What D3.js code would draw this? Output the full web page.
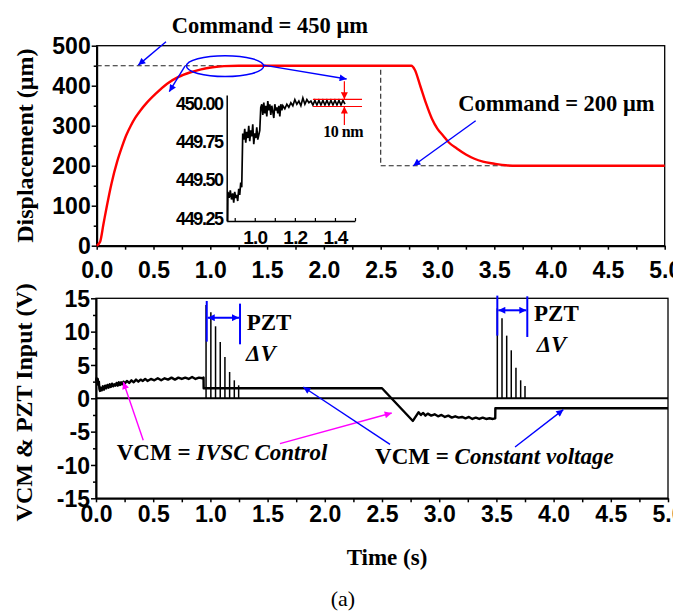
<!DOCTYPE html>
<html><head><meta charset="utf-8">
<script src="https://cdn.jsdelivr.net/npm/d3@7"></script>
<style>body{margin:0;background:#fff}svg{display:block}</style>
</head><body>
<svg id="c" width="673" height="612"></svg>
<script>
// ---------- DATA ----------
// Top panel: displacement response (μm) vs time (s)
const dispTime = [0,0.03,0.06,0.09,0.13,0.18,0.22,0.26,0.3,0.34,0.39,0.44,0.52,0.62,0.72,0.82,0.92,1.02,1.12,1.25,1.5,2.0,2.5,2.77,2.8,2.85,2.9,2.95,3.0,3.05,3.1,3.17,3.25,3.32,3.4,3.5,3.6,3.7,4.0,4.5,5.0];
const dispVal  = [0,10,55,100,155,210,245,276,300,320,340,357,380,405,422,433,441,446,449,450,450,450,450,450,440,398,355,318,292,275,258,243,228,218,210,205,201,200,200,200,200];
// Command (dashed)
const cmdTime = [0,2.5,2.5,5.0];
const cmdVal  = [450,450,200,200];
// Inset: zoomed displacement (μm)
const inTime = [0.865,0.866,0.872,0.878,0.884,0.89,0.895,0.9,0.905,0.91,0.915,0.92,0.925,0.93,0.935,0.94,0.945,0.95,0.955,0.96,0.965,0.97,0.975,0.98,0.985,0.99,0.995,1.0,1.005,1.01,1.015,1.02,1.025,1.03,1.035,1.04,1.045,1.05,1.055,1.06,1.065,1.07,1.075,1.08,1.085,1.09,1.095,1.1,1.105,1.11,1.115,1.12,1.125,1.13,1.135,1.14,1.15,1.16,1.17,1.18,1.19,1.2,1.21,1.22,1.23,1.24,1.25,1.26,1.27,1.28,1.29,1.3,1.31,1.32,1.33,1.34,1.35,1.36,1.37,1.38,1.39,1.4,1.41,1.42,1.43,1.44,1.45];
const inVal  = [449.23,449.42,449.38,449.43,449.37,449.41,449.35,449.42,449.38,449.40,449.36,449.44,449.40,449.48,449.45,449.80,449.76,449.83,449.74,449.81,449.77,449.85,449.75,449.82,449.78,449.86,449.73,449.80,449.77,449.84,449.76,449.79,449.82,449.97,449.99,449.92,450.00,449.93,449.98,449.91,450.01,449.95,449.99,449.92,449.98,449.94,449.90,449.99,449.95,449.97,449.93,449.98,449.91,449.99,449.95,449.98,449.96,449.99,449.97,450.00,449.98,450.02,449.99,450.01,449.98,450.03,449.99,450.02,450.00,450.01,449.985,450.015,449.985,450.015,449.985,450.015,449.985,450.015,449.985,450.015,449.985,450.015,449.985,450.015,449.985,450.015,449.99];
const inBand = [449.975,450.022];
// Bottom panel: VCM input (V)
const vcmTime = [0,0.005,0.01,0.015,0.02,0.025,0.03,0.035,0.04,0.05,0.06,0.07,0.08,0.09,0.10,0.11,0.12,0.13,0.14,0.15,0.16,0.17,0.18,0.19,0.20,0.21,0.22,0.23,0.24,0.25,0.27,0.29,0.31,0.33,0.35,0.37,0.39,0.41,0.43,0.45,0.48,0.51,0.54,0.57,0.60,0.63,0.66,0.69,0.72,0.75,0.78,0.81,0.84,0.87,0.90,0.93,0.94,0.941,2.5,2.77,2.80,2.82,2.84,2.86,2.88,2.90,2.93,2.96,2.99,3.02,3.05,3.08,3.11,3.14,3.17,3.20,3.23,3.26,3.29,3.32,3.35,3.38,3.41,3.44,3.47,3.49,3.491,5.0];
const vcmVal  = [2.6,3.0,2.2,2.9,2.0,2.5,1.4,1.1,1.6,1.2,1.8,1.3,1.9,1.5,2.0,1.6,2.1,1.7,2.2,1.8,2.1,1.9,2.3,1.9,2.4,2.0,2.4,2.1,2.5,2.2,2.6,2.3,2.7,2.4,2.8,2.5,2.8,2.6,2.9,2.6,2.9,2.7,3.0,2.7,3.0,2.8,3.1,2.8,3.1,2.9,3.1,2.9,3.2,2.9,3.1,3.0,3.1,1.5,1.5,-3.4,-2.6,-2.1,-2.5,-2.2,-2.6,-2.3,-2.6,-2.4,-2.7,-2.5,-2.8,-2.6,-2.9,-2.7,-2.9,-2.8,-3.0,-2.8,-3.1,-2.9,-3.1,-2.9,-3.1,-3.0,-3.1,-3.0,-1.5,-1.5];
// PZT pulses (V)
const pztTime1 = [0.962,1.004,1.045,1.086,1.127,1.168,1.209,1.247];
const pztVal1  = [14.0,12.9,10.8,8.45,6.2,3.95,2.7,1.95];
const pztTime2 = [3.508,3.549,3.59,3.63,3.671,3.712,3.75];
const pztVal2  = [13.5,12.0,9.4,7.2,4.6,2.7,1.85];
// Ticks
const xTickVals = [0,0.5,1.0,1.5,2.0,2.5,3.0,3.5,4.0,4.5,5.0];
const dispTickVals = [0,100,200,300,400,500];
const voltTickVals = [-15,-10,-5,0,5,10,15];
const inXTickVals = [1.0,1.2,1.4];
const inYTickVals = [449.25,449.50,449.75,450.00];

// ---------- DRAW ----------
const svg = d3.select("#c");
const SANS = "'Liberation Sans', Arial, sans-serif";
const SERIF = "'Liberation Serif', 'Times New Roman', serif";
const TICKFS = 23;

const xTop = d3.scaleLinear().domain([0,5]).range([96.7,664.7]);
const yTop = d3.scaleLinear().domain([0,500]).range([245.7,45.7]);
const xBot = d3.scaleLinear().domain([0,5]).range([96,668]);
const yBot = d3.scaleLinear().domain([-15,15]).range([498.3,298.3]);
const xIn  = d3.scaleLinear().domain([0.86,1.5]).range([226.7,355]);
const yIn  = d3.scaleLinear().domain([449.23,450.05]).range([221,95]);

const defs = svg.append("defs");
function marker(id, color){
  defs.append("marker").attr("id",id).attr("viewBox","0 0 10 10").attr("refX",10).attr("refY",5)
    .attr("markerWidth",9).attr("markerHeight",7).attr("markerUnits","userSpaceOnUse")
    .attr("orient","auto-start-reverse")
    .append("path").attr("d","M0,0 L10,5 L0,10 z").attr("fill",color);
}
marker("ab","#0000ff"); marker("am","#ff00ff"); marker("ar","#ff0000");

function axisStyle(g, w){
  g.select(".domain").attr("stroke","#000").attr("stroke-width",w);
  g.selectAll(".tick line").attr("stroke","#000").attr("stroke-width",1.5);
}

// ---- Top panel frame ----
svg.append("rect").attr("x",xTop(0)).attr("y",yTop(500)).attr("width",xTop(5)-xTop(0)).attr("height",yTop(0)-yTop(500))
  .attr("fill","none").attr("stroke","#000").attr("stroke-width",1.3);

const gxt = svg.append("g").attr("transform",`translate(0,${yTop(0)})`)
  .call(d3.axisBottom(xTop).tickValues(d3.range(0,5.001,0.25)).tickSize(4).tickSizeOuter(0)
    .tickFormat(d => xTickVals.some(v=>Math.abs(v-d)<1e-6) ? d.toFixed(1) : ""));
axisStyle(gxt,2);
gxt.selectAll("text").attr("y",32).attr("dy",0).attr("font-family",SANS).attr("font-weight","bold").attr("font-size",TICKFS).attr("fill","#000");

const gyt = svg.append("g").attr("transform",`translate(${xTop(0)},0)`)
  .call(d3.axisLeft(yTop).tickValues(d3.range(0,501,50)).tickSize(5).tickSizeOuter(0)
    .tickFormat(d => dispTickVals.includes(d) ? d : ""));
axisStyle(gyt,2);
gyt.selectAll(".tick").filter(d=>!dispTickVals.includes(d)).select("line").attr("x2",-3);
gyt.selectAll("text").attr("x",-6).attr("dy","0.36em").attr("font-family",SANS).attr("font-weight","bold").attr("font-size",TICKFS).attr("fill","#000");

// command dashed
svg.append("path").datum(cmdTime.map((t,i)=>[t,cmdVal[i]]))
  .attr("d",d3.line().x(d=>xTop(d[0])).y(d=>yTop(d[1])))
  .attr("fill","none").attr("stroke","#222").attr("stroke-width",1.1).attr("stroke-dasharray","5,3");
// response
svg.append("path").datum(dispTime.map((t,i)=>[t,dispVal[i]]))
  .attr("d",d3.line().curve(d3.curveMonotoneX).x(d=>xTop(d[0])).y(d=>yTop(d[1])))
  .attr("fill","none").attr("stroke","#ff0000").attr("stroke-width",2.4);

// annotations top
function arrow(x1,y1,x2,y2,color,mid,w){
  svg.append("line").attr("x1",x1).attr("y1",y1).attr("x2",x2).attr("y2",y2)
    .attr("stroke",color).attr("stroke-width",w||1.4).attr("marker-end",`url(#${mid})`);
}
svg.append("text").attr("x",xTop(0.66)).attr("y",yTop(532)).text("Command = 450 μm")
  .attr("font-family",SERIF).attr("font-weight","bold").attr("font-size",22.5);
svg.append("text").attr("x",xTop(3.183)).attr("y",yTop(336)).text("Command = 200 μm")
  .attr("font-family",SERIF).attr("font-weight","bold").attr("font-size",22.5);
arrow(xTop(0.61),yTop(510),xTop(0.366),yTop(451.5),"#0000ff","ab");
arrow(xTop(3.336),yTop(312.5),xTop(2.787),yTop(200),"#0000ff","ab");
svg.append("ellipse").attr("cx",xTop(1.13)).attr("cy",yTop(449)).attr("rx",xTop(1.13)-xTop(0.79)).attr("ry",yTop(423)-yTop(449))
  .attr("fill","none").attr("stroke","#0000ff").attr("stroke-width",1.5);
arrow(xTop(0.777),yTop(449),xTop(0.639),yTop(385),"#0000ff","ab");
arrow(xTop(1.467),yTop(451.5),xTop(2.2),yTop(416.7),"#0000ff","ab");

// ---- Inset ----
const gix = svg.append("g").attr("transform",`translate(0,${yIn(449.23)})`)
  .call(d3.axisBottom(xIn).tickValues(d3.range(0.9,1.501,0.1)).tickSize(-3).tickSizeOuter(0)
    .tickFormat(d => inXTickVals.some(v=>Math.abs(v-d)<1e-6) ? d.toFixed(1) : ""));
axisStyle(gix,1.5);
gix.selectAll(".tick line").attr("stroke-width",1.2);
gix.selectAll("text").attr("y",23).attr("dy",0).attr("font-family",SANS).attr("font-weight","bold").attr("font-size",19).attr("letter-spacing",-0.8).attr("fill","#000");
const giy = svg.append("g").attr("transform",`translate(${xIn(0.86)},0)`)
  .call(d3.axisLeft(yIn).tickValues(inYTickVals).tickSize(0).tickSizeOuter(0).tickFormat(d=>d.toFixed(2)));
axisStyle(giy,1.5);
giy.selectAll("text").attr("x",-4).attr("dy","0.36em").attr("font-family",SANS).attr("font-weight","bold").attr("font-size",18).attr("letter-spacing",-1.4).attr("fill","#000");

svg.append("path").datum(inTime.map((t,i)=>[t,inVal[i]]))
  .attr("d",d3.line().x(d=>xIn(d[0])).y(d=>yIn(d[1])))
  .attr("fill","none").attr("stroke","#000").attr("stroke-width",1.7);
inBand.forEach(v=>{
  svg.append("line").attr("x1",xIn(1.29)).attr("x2",xIn(1.535)).attr("y1",yIn(v)).attr("y2",yIn(v))
    .attr("stroke","#ff0000").attr("stroke-width",1.2);
});
arrow(xIn(1.447),yIn(450.14),xIn(1.447),yIn(inBand[1]),"#ff0000","ar",1.2);
arrow(xIn(1.447),yIn(449.855),xIn(1.447),yIn(inBand[0]),"#ff0000","ar",1.2);
svg.append("text").attr("x",xIn(1.342)).attr("y",yIn(449.779)).text("10 nm")
  .attr("font-family",SERIF).attr("font-weight","bold").attr("font-size",16).attr("letter-spacing",-0.5);

// ---- Bottom panel ----
svg.append("rect").attr("x",xBot(0)).attr("y",yBot(15)).attr("width",xBot(5)-xBot(0)).attr("height",yBot(-15)-yBot(15))
  .attr("fill","none").attr("stroke","#000").attr("stroke-width",1.3);
const gxb = svg.append("g").attr("transform",`translate(0,${yBot(-15)})`)
  .call(d3.axisBottom(xBot).tickValues(d3.range(0,5.001,0.25)).tickSize(4).tickSizeOuter(0)
    .tickFormat(d => xTickVals.some(v=>Math.abs(v-d)<1e-6) ? d.toFixed(1) : ""));
axisStyle(gxb,2);
gxb.selectAll("text").attr("y",24).attr("dy",0).attr("font-family",SANS).attr("font-weight","bold").attr("font-size",TICKFS).attr("fill","#000");
const gyb = svg.append("g").attr("transform",`translate(${xBot(0)},0)`)
  .call(d3.axisLeft(yBot).tickValues(d3.range(-15,15.01,2.5)).tickSize(5).tickSizeOuter(0)
    .tickFormat(d => voltTickVals.includes(d) ? d : ""));
axisStyle(gyb,2);
gyb.selectAll(".tick").filter(d=>!voltTickVals.includes(d)).select("line").attr("x2",-3);
gyb.selectAll("text").attr("x",-6).attr("dy","0.36em").attr("font-family",SANS).attr("font-weight","bold").attr("font-size",TICKFS).attr("fill","#000");

// zero (PZT baseline)
svg.append("line").attr("x1",xBot(0)).attr("x2",xBot(5)).attr("y1",yBot(0)).attr("y2",yBot(0)).attr("stroke","#000").attr("stroke-width",2);
// PZT pulses
[[pztTime1,pztVal1],[pztTime2,pztVal2]].forEach(([ts,vs])=>{
  svg.append("g").selectAll("line").data(ts).join("line")
    .attr("x1",d=>xBot(d)).attr("x2",d=>xBot(d)).attr("y1",yBot(0)).attr("y2",(d,i)=>yBot(vs[i]))
    .attr("stroke","#000").attr("stroke-width",1.5);
});
// VCM
svg.append("path").datum(vcmTime.map((t,i)=>[t,vcmVal[i]]))
  .attr("d",d3.line().x(d=>xBot(d[0])).y(d=>yBot(d[1])))
  .attr("fill","none").attr("stroke","#000").attr("stroke-width",2.4).attr("stroke-linejoin","round");

// brackets
function bracket(t1,t2,v1a,v1b,v2a,v2b,va){
  svg.append("line").attr("x1",xBot(t1)).attr("x2",xBot(t1)).attr("y1",yBot(v1a)).attr("y2",yBot(v1b)).attr("stroke","#0000ff").attr("stroke-width",2);
  svg.append("line").attr("x1",xBot(t2)).attr("x2",xBot(t2)).attr("y1",yBot(v2a)).attr("y2",yBot(v2b)).attr("stroke","#0000ff").attr("stroke-width",2);
  svg.append("line").attr("x1",xBot(t1)+1).attr("x2",xBot(t2)-1).attr("y1",yBot(va)).attr("y2",yBot(va))
    .attr("stroke","#0000ff").attr("stroke-width",2).attr("marker-start","url(#ab)").attr("marker-end","url(#ab)");
}
bracket(0.968,1.259,14.6,8.5,14.2,8.1,12.1);
bracket(3.508,3.77,15.4,9.4,15.3,9.2,13.2);
function pztLabel(t1,v1,t2,v2){
  svg.append("text").attr("x",xBot(t1)).attr("y",yBot(v1)).text("PZT")
    .attr("font-family",SERIF).attr("font-weight","bold").attr("font-size",23);
  svg.append("text").attr("x",xBot(t2)).attr("y",yBot(v2)).text("ΔV")
    .attr("font-family",SERIF).attr("font-weight","bold").attr("font-style","italic").attr("font-size",23);
}
pztLabel(1.317,10.2,1.311,5.6);
pztLabel(3.829,11.6,3.852,6.95);

// VCM labels
const t1 = svg.append("text").attr("x",xBot(0.181)).attr("y",yBot(-9.2))
  .attr("font-family",SERIF).attr("font-weight","bold").attr("font-size",23);
t1.append("tspan").text("VCM = ");
t1.append("tspan").attr("font-style","italic").text("IVSC Control");
const t2 = svg.append("text").attr("x",xBot(2.439)).attr("y",yBot(-9.8))
  .attr("font-family",SERIF).attr("font-weight","bold").attr("font-size",23);
t2.append("tspan").text("VCM = ");
t2.append("tspan").attr("font-style","italic").text("Constant voltage");

arrow(xBot(0.413),yBot(-6.3),xBot(0.239),yBot(2.45),"#ff00ff","am");
arrow(xBot(1.608),yBot(-6.8),xBot(2.585),yBot(-2.2),"#ff00ff","am");
arrow(xBot(2.57),yBot(-6.9),xBot(1.812),yBot(1.7),"#0000ff","ab");
arrow(xBot(3.663),yBot(-7.3),xBot(4.085),yBot(-1.7),"#0000ff","ab");

// axis titles
svg.append("text").attr("transform",`translate(33,${(yTop(0)+yTop(500))/2}) rotate(-90)`).attr("text-anchor","middle")
  .attr("font-family",SERIF).attr("font-weight","bold").attr("font-size",24).text("Displacement (μm)");
svg.append("text").attr("transform",`translate(32,${(yBot(-15)+yBot(15))/2+4}) rotate(-90)`).attr("text-anchor","middle")
  .attr("font-family",SERIF).attr("font-weight","bold").attr("font-size",24).text("VCM & PZT Input (V)");
svg.append("text").attr("x",xBot(2.5)+5).attr("y",565).attr("text-anchor","middle")
  .attr("font-family",SERIF).attr("font-weight","bold").attr("font-size",23).text("Time (s)");
svg.append("text").attr("x",343).attr("y",606).attr("text-anchor","middle")
  .attr("font-family",SERIF).attr("font-size",22).text("(a)");
</script>
</body></html>
